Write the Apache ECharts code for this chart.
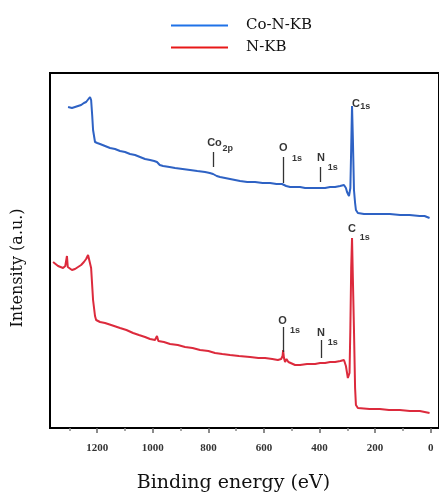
<!DOCTYPE html>
<html>
<head>
<meta charset="utf-8">
<script src="https://cdn.jsdelivr.net/npm/echarts@6/dist/echarts.min.js"></script>
<style>
html, body { margin: 0; background: #fff; }
#main { width: 439px; height: 500px; }
</style>
</head>
<body>
<div id="main"></div>
<script>
// [binding energy (eV), intensity (a.u.)]
var coNKB = [[1305,321],[1291,320],[1280,321],[1269,322],[1258,323],[1248,325],[1240,326],[1233,328],[1226,331],[1222,328],[1218,312],[1215,298],[1208,286],[1200,285],[1190,284],[1172,282],[1154,280],[1136,279],[1118,277],[1100,276],[1082,274],[1064,273],[1046,271],[1028,269],[1010,268],[995,267],[985,266],[975,263],[963,262],[940,261],[920,260],[893,259],[866,258],[840,257],[812,256],[795,255],[783,254],[770,252],[758,251],[740,250],[722,249],[704,248],[686,247],[660,246],[632,246],[605,245],[578,245],[555,244],[535,244],[528,242],[520,242],[506,241],[488,241],[470,241],[452,240],[434,240],[416,240],[398,240],[380,240],[362,241],[344,241],[326,242],[312,243],[305,240],[301,236],[294,232],[289,240],[286,280],[283,322],[280,290],[276,238],[272,225],[269,218],[262,215],[240,214],[218,214],[180,214],[147,214],[110,213],[76,213],[40,212],[22,212],[4,210]];
var nKB = [[1359,166],[1350,164],[1341,162],[1332,161],[1323,160],[1315,162],[1312,163],[1309,172],[1306,161],[1300,159],[1291,158],[1280,159],[1269,161],[1258,163],[1248,166],[1240,169],[1233,173],[1228,171],[1222,160],[1215,128],[1208,112],[1204,108],[1190,106],[1172,105],[1150,103],[1118,100],[1095,98],[1071,95],[1050,93],[1028,91],[1010,89],[992,88],[985,92],[980,87],[960,86],[938,84],[910,83],[884,81],[857,80],[830,78],[800,77],[776,75],[750,74],[722,73],[690,72],[650,71],[620,70],[596,70],[570,69],[550,68],[538,69],[533,72],[531,78],[528,70],[524,66],[519,69],[517,71],[512,66],[506,64],[488,63],[470,63],[445,64],[416,64],[398,65],[380,65],[362,66],[344,66],[325,67],[312,68],[305,62],[298,50],[292,55],[289,100],[286,160],[283,190],[280,150],[276,98],[272,40],[269,23],[262,20],[220,19],[183,19],[150,18],[111,18],[75,17],[39,17],[4,15]];

var majorTicks = [0, 200, 400, 600, 800, 1000, 1200];
var minorTicks = [100, 300, 500, 700, 900, 1100, 1300];

// peak markers: [eV, from, to]
var peakMarks = [[783,261,276],[531,245,271],[398,246,261],[531,76,101],[394,70,88]];
// peak labels: [text, eV, intensity, 'm' main / 's' subscript]
var peakLabels = [
  ['Co',778,285,'m'], ['2p',730,279,'s'],
  ['O',530,280,'m'], ['1s',481,269,'s'],
  ['N',395,270,'m'], ['1s',352,260,'s'],
  ['C',269,324,'m'], ['1s',235,321,'s'],
  ['C',283,199,'m'], ['1s',237,190,'s'],
  ['O',533,107,'m'], ['1s',488,97,'s'],
  ['N',395,95,'m'], ['1s',352,85,'s']
];

var myChart = echarts.init(document.getElementById('main'));
var serif = 'DejaVu Serif';

var option = {
  animation: false,
  legend: {
    orient: 'vertical',
    left: 166,
    top: 13,
    itemWidth: 57,
    itemHeight: 14,
    itemGap: 7,
    icon: 'path://M0,0 L56,0 L56,2 L0,2 Z',
    textStyle: { fontFamily: serif, fontSize: 15, color: '#111', padding: [0, 0, 0, 13] },
    data: [
      { name: 'Co-N-KB', itemStyle: { color: '#1f72e8' } },
      { name: 'N-KB', itemStyle: { color: '#e81818' } }
    ]
  },
  grid: {
    left: 50, top: 73, right: -1, bottom: 72,
    show: true, borderColor: '#000', borderWidth: 2
  },
  xAxis: [{
    type: 'value',
    min: -30, max: 1370, inverse: true,
    name: 'Binding energy (eV)',
    nameLocation: 'middle',
    nameGap: 46,
    nameTextStyle: { fontFamily: serif, fontSize: 19, color: '#111', padding: [0, 22, 0, 0] },
    axisLine: { show: true, lineStyle: { color: '#000', width: 2 } },
    axisTick: { show: true, customValues: majorTicks, length: 5, lineStyle: { color: '#666', width: 1.5 } },
    axisLabel: {
      customValues: majorTicks, margin: 15,
      formatter: function (v) { return String(v); },
      fontFamily: 'Liberation Serif', fontWeight: 'bold', fontSize: 11, color: '#333'
    },
    splitLine: { show: false }
  }, {
    type: 'value',
    min: -30, max: 1370, inverse: true,
    position: 'bottom',
    axisLine: { show: false },
    axisTick: { show: true, customValues: minorTicks, length: 3, lineStyle: { color: '#888', width: 1.5 } },
    axisLabel: { show: false },
    splitLine: { show: false }
  }],
  yAxis: {
    type: 'value',
    min: 0, max: 355,
    name: 'Intensity (a.u.)',
    nameLocation: 'middle',
    nameGap: 24,
    nameTextStyle: { fontFamily: serif, fontSize: 16, color: '#111', padding: [0, 35, 0, 0] },
    axisLine: { show: false },
    axisTick: { show: false },
    axisLabel: { show: false },
    splitLine: { show: false }
  },
  series: [{
    name: 'Co-N-KB',
    type: 'line',
    data: coNKB,
    symbol: 'none',
    lineStyle: { color: '#2e62c4', width: 2 },
    itemStyle: { color: '#2e62c4' }
  }, {
    name: 'N-KB',
    type: 'line',
    data: nKB,
    symbol: 'none',
    lineStyle: { color: '#dc2a3c', width: 2 },
    itemStyle: { color: '#dc2a3c' }
  }, {
    name: 'peaks',
    type: 'scatter',
    silent: true,
    symbolSize: 1,
    itemStyle: { color: 'rgba(0,0,0,0)' },
    data: peakLabels.map(function (p) {
      return {
        value: [p[1], p[2]],
        label: {
          show: true,
          position: 'inside',
          formatter: p[0],
          fontFamily: 'Liberation Sans',
          fontWeight: 'bold',
          fontSize: p[3] === 'm' ? 11 : 9,
          color: '#000'
        }
      };
    }),
    markLine: {
      silent: true,
      symbol: ['none', 'none'],
      label: { show: false },
      lineStyle: { color: '#333', width: 1.3, type: 'solid' },
      data: peakMarks.map(function (m) {
        return [{ coord: [m[0], m[1]] }, { coord: [m[0], m[2]] }];
      })
    }
  }]
};
myChart.setOption(option);
</script>
</body>
</html>
